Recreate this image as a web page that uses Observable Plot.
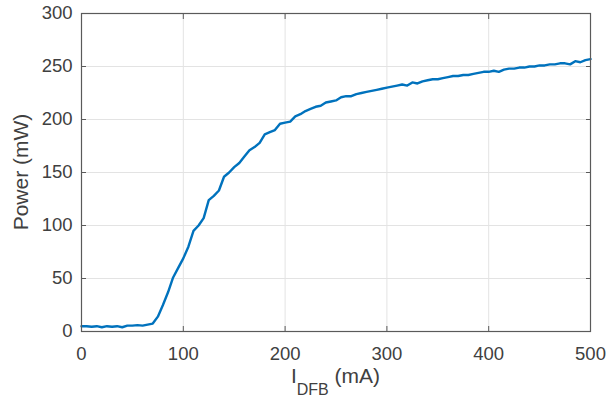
<!DOCTYPE html>
<html><head><meta charset="utf-8">
<script src="https://cdn.jsdelivr.net/npm/d3@7"></script>
<script src="https://cdn.jsdelivr.net/npm/@observablehq/plot@0.6"></script>
<style>body{margin:0;background:#fff} svg{display:block}</style>
</head><body><div id="chart"></div>
<script>
const current = [0,5,10,15,20,25,30,35,40,45,50,55,60,65,70,75,80,85,90,95,
  100,105,110,115,120,125,130,135,140,145,150,155,160,165,170,175,180,185,190,195,
  200,205,210,215,220,225,230,235,240,245,250,255,260,265,270,275,280,285,290,295,
  300,305,310,315,320,325,330,335,340,345,350,355,360,365,370,375,380,385,390,395,
  400,405,410,415,420,425,430,435,440,445,450,455,460,465,470,475,480,485,490,495,500];
const power = [5,5,4.5,5,4,5,4.5,5,4,5.5,5.5,6,5.5,6.5,7.5,14,25,37,51,60,
  69,80,95,100,107,124,128,133,146,150,155,159,165,171,174,178,186,188,190,196,
  197,198,203,205,208,210,212,213,216,217,218,221,222,222,224,225,226,227,228,229,
  230,231,232,233,232,235,234,236,237,238,238,239,240,241,241,242,242,243,244,245,
  245,246,245,247,248,248,249,249,250,250,251,251,252,252,253,253,252,255,254,256,257];
const xTicks = [0,100,200,300,400,500];
const yTicks = [0,50,100,150,200,250,300];
const yLabel = "Power (mW)";
const xLabelMain = "I", xLabelSub = "DFB", xLabelUnit = " (mA)";

const data = current.map((c, i) => ({current: c, power: power[i]}));
const axisColor = "#5a5a5a";
const chart = Plot.plot({
  width: 606, height: 401,
  marginLeft: 81, marginRight: 16, marginTop: 13, marginBottom: 70,
  style: {fontFamily: "'Liberation Sans', Arial, sans-serif", fontSize: "18.5px", color: "#404040", background: "#fff"},
  x: {domain: [0, 500]},
  y: {domain: [0, 300]},
  marks: [
    Plot.gridX(xTicks, {stroke: "#e3e3e3", strokeOpacity: 1}),
    Plot.gridY(yTicks, {stroke: "#e3e3e3", strokeOpacity: 1}),
    Plot.axisX(xTicks, {anchor: "bottom", tickSize: 0, tickPadding: 15, label: null, fill: "#404040"}),
    Plot.axisY(yTicks, {anchor: "left", tickSize: 0, tickPadding: 9, label: null, fill: "#404040"}),
    Plot.axisX(xTicks, {anchor: "bottom", tickSize: -5, text: null, label: null, stroke: axisColor}),
    Plot.axisX(xTicks, {anchor: "top", tickSize: -5, text: null, label: null, stroke: axisColor}),
    Plot.axisY(yTicks, {anchor: "left", tickSize: -5, text: null, label: null, stroke: axisColor}),
    Plot.axisY(yTicks, {anchor: "right", tickSize: -5, text: null, label: null, stroke: axisColor}),
    Plot.line(data, {x: "current", y: "power", stroke: "#0072BD", strokeWidth: 2.4, curve: "linear"}),
    Plot.frame({stroke: axisColor, strokeWidth: 1.2})
  ]
});
document.getElementById("chart").appendChild(chart);

const sx = chart.scale("x"), sy = chart.scale("y");
const svg = d3.select(chart);
const cx = (sx.range[0] + sx.range[1]) / 2;
const cy = (sy.range[0] + sy.range[1]) / 2;
const xl = svg.append("text")
  .attr("x", cx).attr("y", sy.range[0] + 52)
  .attr("text-anchor", "middle")
  .attr("fill", "#404040")
  .style("font-size", "21px");
xl.append("tspan").text(xLabelMain);
xl.append("tspan").attr("dy", 12).style("font-size", "16px").text(xLabelSub);
xl.append("tspan").attr("dy", -12).text(xLabelUnit);
svg.append("text")
  .attr("transform", `translate(${sx.range[0] - 53},${cy}) rotate(-90)`)
  .attr("text-anchor", "middle")
  .attr("fill", "#404040")
  .style("font-size", "21px")
  .text(yLabel);
</script>
</body></html>
